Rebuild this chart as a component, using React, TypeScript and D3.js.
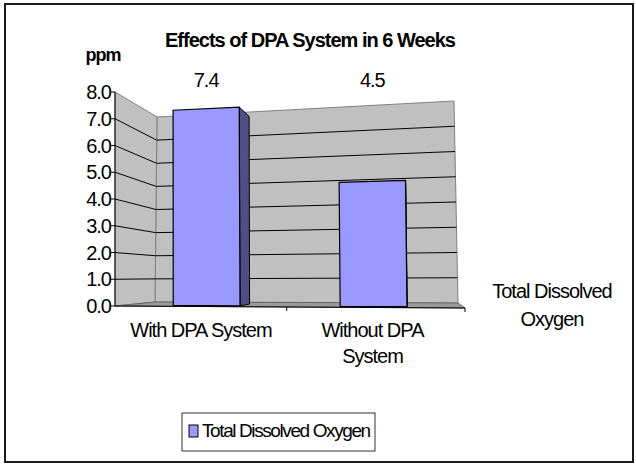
import React, { useEffect, useRef } from 'react';
import * as d3 from 'd3';

// chart data
const categories = ['With DPA System', 'Without DPA System'];
const categoryLines = [['With DPA System'], ['Without DPA', 'System']];
const oxygenValues = [7.4, 4.5];
const valueLabels = ['7.4', '4.5'];
const yTicks = [0, 1, 2, 3, 4, 5, 6, 7, 8];
const seriesName = 'Total Dissolved Oxygen';
const seriesLines = ['Total Dissolved', 'Oxygen'];
const chartTitle = 'Effects of DPA System in 6 Weeks';
const axisTitle = 'ppm';

const WIDTH = 636;
const HEIGHT = 467;
const FONT = '"Liberation Sans", Arial, sans-serif';

type Pt = [number, number];

// corners of the 3d plot box, front plane (z = 0) and back wall (z = 1)
const box = {
  front: { bl: [115, 306] as Pt, tl: [115, 92] as Pt, br: [465, 308] as Pt, tr: [462, 74] as Pt },
  back: { bl: [155, 302] as Pt, tl: [157, 117] as Pt, br: [458, 303] as Pt, tr: [454, 101] as Pt },
};

const lerp = (a: Pt, b: Pt, t: number): Pt => [a[0] + (b[0] - a[0]) * t, a[1] + (b[1] - a[1]) * t];

const App = () => {
  const ref = useRef<SVGSVGElement | null>(null);

  useEffect(() => {
    const svg = d3.select(ref.current);
    svg.selectAll('*').remove();

    // value -> height fraction in the box
    const vScale = d3.scaleLinear().domain([0, 8]).range([0, 1]);

    // category -> position along the box width (0..1)
    const xBand = d3.scaleBand<string>()
      .domain(categories)
      .range([0, 1])
      .paddingInner(0.6)
      .paddingOuter(0.32)
      .align(0.47);

    const project = (u: number, v: number, z: number): Pt => {
      const t = vScale(v);
      const onPlane = (p: typeof box.front) => lerp(lerp(p.bl, p.br, u), lerp(p.tl, p.tr, u), t);
      return lerp(onPlane(box.front), onPlane(box.back), z);
    };
    const poly = (pts: Pt[]) => 'M' + pts.map(p => p.join(',')).join('L') + 'Z';

    const g = svg.append('g');

    // outer frame
    g.append('rect')
      .attr('x', 5).attr('y', 4)
      .attr('width', 628).attr('height', 458)
      .attr('fill', 'white')
      .attr('stroke', '#1a1a1a')
      .attr('stroke-width', 2);

    // back wall
    g.append('path')
      .attr('d', poly([project(0, 0, 1), project(1, 0, 1), project(1, 8, 1), project(0, 8, 1)]))
      .attr('fill', '#c0c0c0')
      .attr('stroke', '#808080');

    // left wall
    g.append('path')
      .attr('d', poly([project(0, 0, 0), project(0, 0, 1), project(0, 8, 1), project(0, 8, 0)]))
      .attr('fill', '#c0c0c0')
      .attr('stroke', '#808080');

    // floor
    g.append('path')
      .attr('d', poly([project(0, 0, 0), project(1, 0, 0), project(1, 0, 1), project(0, 0, 1)]))
      .attr('fill', '#9a9a9a')
      .attr('stroke', '#666');

    // gridlines on both walls
    const inner = yTicks.filter(v => v > 0 && v < 8);
    g.selectAll('.grid-back')
      .data(inner)
      .enter()
      .append('line')
      .attr('x1', d => project(0, d, 1)[0]).attr('y1', d => project(0, d, 1)[1])
      .attr('x2', d => project(1, d, 1)[0]).attr('y2', d => project(1, d, 1)[1])
      .attr('stroke', 'black');
    g.selectAll('.grid-left')
      .data(inner)
      .enter()
      .append('line')
      .attr('x1', d => project(0, d, 0)[0]).attr('y1', d => project(0, d, 0)[1])
      .attr('x2', d => project(0, d, 1)[0]).attr('y2', d => project(0, d, 1)[1])
      .attr('stroke', 'black');

    // bars: right side face then front face
    const z0 = 0.2;
    const z1 = 0.6;
    const bars = categories.map((c, i) => ({
      u0: xBand(c) as number,
      u1: (xBand(c) as number) + xBand.bandwidth(),
      v: oxygenValues[i],
    }));
    g.selectAll('.bar-side')
      .data(bars)
      .enter()
      .append('path')
      .attr('d', d => poly([project(d.u1, 0, z0), project(d.u1, 0, z1), project(d.u1, d.v, z1), project(d.u1, d.v, z0)]))
      .attr('fill', '#4f4f85')
      .attr('stroke', 'black')
      .attr('stroke-linejoin', 'round');
    g.selectAll('.bar-front')
      .data(bars)
      .enter()
      .append('path')
      .attr('d', d => poly([project(d.u0, 0, z0), project(d.u1, 0, z0), project(d.u1, d.v, z0), project(d.u0, d.v, z0)]))
      .attr('fill', '#9999ff')
      .attr('stroke', 'black')
      .attr('stroke-width', 1.2);

    // value axis on the front left edge
    const [ax, ay0] = project(0, 0, 0);
    const ay1 = project(0, 8, 0)[1];
    g.append('line')
      .attr('x1', ax).attr('y1', ay0).attr('x2', ax).attr('y2', ay1)
      .attr('stroke', 'black');
    const yt = g.selectAll('.ytick').data(yTicks).enter().append('g');
    yt.append('line')
      .attr('x1', ax - 4).attr('x2', ax)
      .attr('y1', d => project(0, d, 0)[1]).attr('y2', d => project(0, d, 0)[1])
      .attr('stroke', 'black');
    yt.append('text')
      .attr('x', ax - 4)
      .attr('y', d => project(0, d, 0)[1] + 7)
      .attr('text-anchor', 'end')
      .style('font-family', FONT)
      .style('font-size', '20px')
      .style('letter-spacing', '-1px')
      .text(d => d.toFixed(1));

    // category axis along the front floor edge
    g.append('line')
      .attr('x1', project(0, 0, 0)[0]).attr('y1', project(0, 0, 0)[1])
      .attr('x2', project(1, 0, 0)[0]).attr('y2', project(1, 0, 0)[1])
      .attr('stroke', 'black');
    const mid = ((xBand(categories[0]) as number) + xBand.bandwidth() + (xBand(categories[1]) as number)) / 2;
    g.selectAll('.xtick')
      .data([mid, 1])
      .enter()
      .append('line')
      .attr('x1', d => project(d, 0, 0)[0]).attr('x2', d => project(d, 0, 0)[0])
      .attr('y1', d => project(d, 0, 0)[1]).attr('y2', d => project(d, 0, 0)[1] + 4)
      .attr('stroke', 'black');

    const xl = g.selectAll('.xlabel')
      .data(categories)
      .enter()
      .append('text')
      .attr('text-anchor', 'middle')
      .style('font-family', FONT)
      .style('font-size', '20px')
      .style('letter-spacing', '-1px');
    xl.each(function (c, i) {
      const cx = project((xBand(c) as number) + xBand.bandwidth() / 2, 0, 0)[0];
      d3.select(this)
        .selectAll('tspan')
        .data(categoryLines[i])
        .enter()
        .append('tspan')
        .attr('x', cx)
        .attr('y', (_, j) => 337 + j * 26)
        .text(d => d);
    });

    // value labels
    g.selectAll('.vlabel')
      .data(bars)
      .enter()
      .append('text')
      .attr('x', d => project((d.u0 + d.u1) / 2, d.v, z0)[0])
      .attr('y', ay1 - 5)
      .attr('text-anchor', 'middle')
      .style('font-family', FONT)
      .style('font-size', '20px')
      .style('letter-spacing', '-1px')
      .text((_, i) => valueLabels[i]);

    // series (depth) axis label
    g.selectAll('.slabel')
      .data(seriesLines)
      .enter()
      .append('text')
      .attr('x', 552)
      .attr('y', (_, j) => 298 + j * 28)
      .attr('text-anchor', 'middle')
      .style('font-family', FONT)
      .style('font-size', '20px')
      .style('letter-spacing', '-1px')
      .text(d => d);

    // titles
    g.append('text')
      .attr('x', 310).attr('y', 47)
      .attr('text-anchor', 'middle')
      .style('font-family', FONT)
      .style('font-size', '20px')
      .style('font-weight', 'bold')
      .style('letter-spacing', '-1px')
      .text(chartTitle);
    g.append('text')
      .attr('x', 103).attr('y', 61)
      .attr('text-anchor', 'middle')
      .style('font-family', FONT)
      .style('font-size', '18px')
      .style('font-weight', 'bold')
      .style('letter-spacing', '-1px')
      .text(axisTitle);

    // legend
    const legend = g.append('g').attr('transform', 'translate(182,413)');
    legend.append('rect')
      .attr('width', 193).attr('height', 38)
      .attr('fill', 'white')
      .attr('stroke', '#333');
    legend.append('rect')
      .attr('x', 7).attr('y', 12)
      .attr('width', 9).attr('height', 12)
      .attr('fill', '#9999ff')
      .attr('stroke', 'black');
    legend.append('text')
      .attr('x', 20).attr('y', 24)
      .style('font-family', FONT)
      .style('font-size', '19px')
      .style('letter-spacing', '-1.4px')
      .text(seriesName);
  }, []);

  return (
    <div style={{ position: 'absolute', left: 0, top: 0 }}>
      <svg ref={ref} width={WIDTH} height={HEIGHT} />
    </div>
  );
};

export default App;
